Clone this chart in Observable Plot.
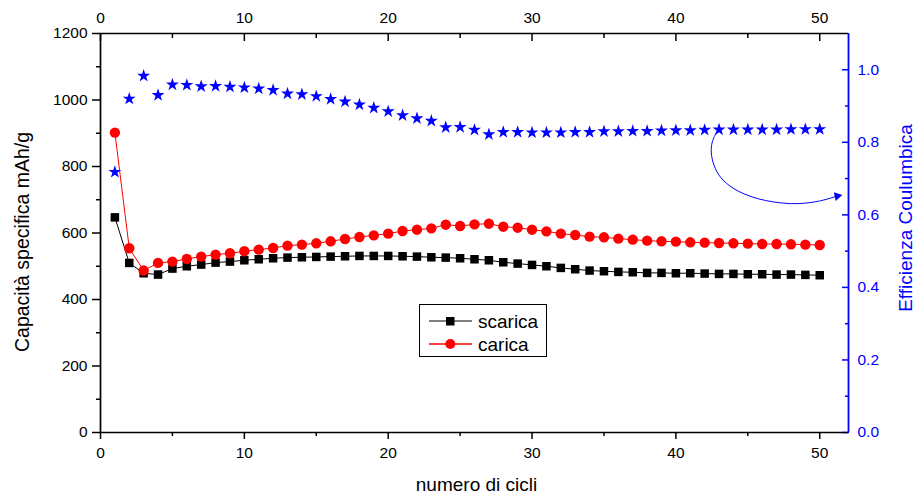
<!DOCTYPE html>
<html><head><meta charset="utf-8">
<script src="https://cdn.jsdelivr.net/npm/d3@7"></script>
<script src="https://cdn.jsdelivr.net/npm/@observablehq/plot@0.6"></script>
<style>
body{margin:0;background:#fff;}
#wrap{position:relative;width:916px;height:496px;}
#legend{position:absolute;left:419px;top:304px;width:128px;height:53px;border:1.3px solid #000;box-sizing:border-box;background:#fff;}
</style></head><body><div id="wrap"></div>
<script>
const cycles = [1,2,3,4,5,6,7,8,9,10,11,12,13,14,15,16,17,18,19,20,21,22,23,24,25,26,27,28,29,30,31,32,33,34,35,36,37,38,39,40,41,42,43,44,45,46,47,48,49,50];
const scarica = [647,510,479,475,493,500,505,511,514,518,521,524,526,527,528,529,530,531,531,531,530,529,527,526,524,521,518,512,508,504,500,495,491,487,485,483,482,480,480,479,479,478,477,477,476,476,475,475,474,473];
const carica = [902,554,487,510,514,522,529,535,539,545,550,555,562,565,569,575,582,588,593,598,606,610,614,625,621,626,628,619,616,610,605,598,594,589,587,583,580,577,575,574,572,571,570,569,568,567,567,566,565,564];
const efficienza = [0.718,0.920,0.983,0.930,0.959,0.958,0.954,0.955,0.953,0.951,0.948,0.944,0.934,0.932,0.927,0.919,0.912,0.904,0.895,0.885,0.874,0.866,0.859,0.841,0.842,0.834,0.822,0.828,0.828,0.827,0.827,0.827,0.828,0.828,0.830,0.830,0.831,0.831,0.832,0.833,0.833,0.834,0.835,0.835,0.835,0.835,0.835,0.836,0.836,0.836];
const xTicks = [0,10,20,30,40,50];
const xMinor = [5,15,25,35,45];
const yTicks = [0,200,400,600,800,1000,1200];
const yMinor = [100,300,500,700,900,1100];
const effTicks = [0.0,0.2,0.4,0.6,0.8,1.0];
const effMinor = [0.1,0.3,0.5,0.7,0.9];
const arrowX = [42.77,42.53,42.46,42.65,43.1,44.04,45.67,47.98,49.84,51.22];
const arrowY = [0.824,0.801,0.773,0.737,0.704,0.672,0.645,0.631,0.637,0.652];

const k = 1200 / 1.1; // right axis (0..1.1) mapped onto left axis (0..1200)
const font = "'Liberation Sans', Arial, sans-serif";
const rows = cycles.map((c, i) => ({c, s: scarica[i], q: carica[i], e: efficienza[i]}));
const arrow = arrowX.map((x, i) => ({x, y: arrowY[i] * k}));
const head = arrow[arrow.length - 1];
const blank = () => "";
const plain = d => String(d);

const plot = Plot.plot({
  width: 916, height: 496,
  marginLeft: 100, marginRight: 68, marginTop: 33, marginBottom: 64,
  style: {fontFamily: font, fontSize: "15px", background: "#fff", color: "#000", overflow: "visible"},
  x: {domain: [0, 52]},
  y: {domain: [0, 1200]},
  marks: [
    // bottom axis
    Plot.axisX(xTicks, {anchor: "bottom", tickSize: 7, tickPadding: 7, label: null, fontSize: 15.5, tickFormat: plain, strokeWidth: 1.5}),
    Plot.axisX(xMinor, {anchor: "bottom", tickSize: 4, tickFormat: blank, label: null, strokeWidth: 1.5}),
    // top axis
    Plot.axisX(xTicks, {anchor: "top", tickSize: 0, tickPadding: 11, label: null, fontSize: 15.5, tickFormat: plain}),
    Plot.axisX(xTicks, {anchor: "top", tickSize: -7, tickFormat: blank, label: null, strokeWidth: 1.5}),
    Plot.axisX(xMinor, {anchor: "top", tickSize: -4, tickFormat: blank, label: null, strokeWidth: 1.5}),
    // left axis
    Plot.axisY(yTicks, {anchor: "left", tickSize: 8, tickPadding: 5, label: null, fontSize: 15.5, tickFormat: plain, strokeWidth: 1.5}),
    Plot.axisY(yMinor, {anchor: "left", tickSize: 4, tickFormat: blank, label: null, strokeWidth: 1.5}),
    // right axis
    Plot.axisY(effTicks.map(v => v * k), {anchor: "right", tickSize: 0, tickPadding: 9, label: null, fontSize: 15.5, fill: "#0000ff", tickFormat: v => (v / k).toFixed(1)}),
    Plot.axisY(effTicks.map(v => v * k), {anchor: "right", tickSize: -7, tickFormat: blank, label: null, stroke: "#0000ff", strokeWidth: 1.5}),
    Plot.axisY(effMinor.map(v => v * k), {anchor: "right", tickSize: -4, tickFormat: blank, label: null, stroke: "#0000ff", strokeWidth: 1.5}),
    // frame
    Plot.ruleY([0, 1200], {stroke: "#000", strokeWidth: 1.7}),
    Plot.ruleX([0], {stroke: "#000", strokeWidth: 1.7}),
    Plot.ruleX([52], {stroke: "#0000ff", strokeWidth: 1.8}),
    // titles
    Plot.text(["Capacità specifica mAh/g"], {frameAnchor: "left", textAnchor: "middle", lineAnchor: "middle", rotate: -90, dx: -78, dy: 9, fontSize: 19.5, fill: "#000"}),
    Plot.text(["numero di cicli"], {frameAnchor: "bottom", textAnchor: "middle", lineAnchor: "middle", dx: 2, dy: 52, fontSize: 19, fill: "#000"}),
    Plot.text(["Efficienza Coulumbica"], {frameAnchor: "right", textAnchor: "middle", lineAnchor: "middle", rotate: -90, dx: 57, dy: -15, fontSize: 19, fill: "#0000ff"}),
    // series
    Plot.line(rows, {x: "c", y: "s", stroke: "#000", strokeWidth: 1}),
    Plot.line(rows, {x: "c", y: "q", stroke: "#ff0000", strokeWidth: 1}),
    Plot.dot(rows, {x: "c", y: "s", symbol: "square", r: 4.8, fill: "#000"}),
    Plot.dot(rows, {x: "c", y: "q", symbol: "circle", r: 5.2, fill: "#ff0000"}),
    Plot.dot(rows, {x: "c", y: d => d.e * k, symbol: "star", r: 4.1, fill: "#0000ff"}),
    // annotation arrow
    Plot.line(arrow, {x: "x", y: "y", curve: "catmull-rom", stroke: "#0000ff", strokeWidth: 1}),
    Plot.dot([head], {x: "x", y: "y", symbol: "triangle", r: 3.3, rotate: 78, fill: "#0000ff"})
  ]
});
const wrap = document.getElementById("wrap");
wrap.appendChild(plot);

const legend = document.createElement("div");
legend.id = "legend";
legend.innerHTML = `<svg width="128" height="53" style="font-family:${font};font-size:19px">
  <line x1="9" x2="52" y1="16" y2="16" stroke="#555" stroke-width="1.3"/>
  <rect x="26" y="12" width="8.5" height="8.5" fill="#000"/>
  <text x="58" y="16" dy="0.35em" fill="#000">scarica</text>
  <line x1="9" x2="52" y1="39" y2="39" stroke="#ff0000" stroke-width="1.3"/>
  <circle cx="30.3" cy="39" r="5" fill="#ff0000"/>
  <text x="58" y="39" dy="0.35em" fill="#000">carica</text>
</svg>`;
wrap.appendChild(legend);
</script></body></html>
